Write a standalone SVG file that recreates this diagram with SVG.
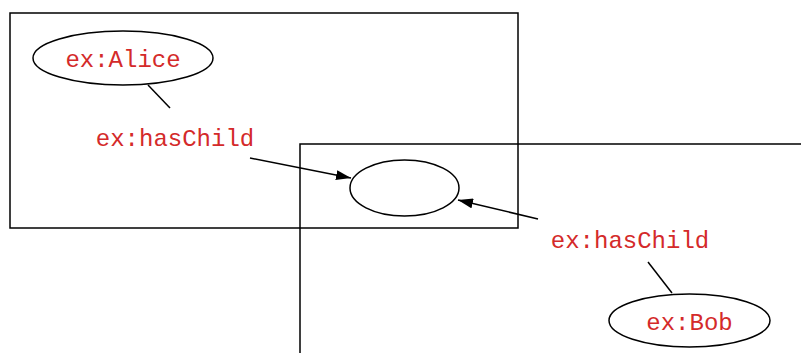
<svg xmlns="http://www.w3.org/2000/svg" width="801" height="353" viewBox="0 0 801 353">
<style>
.box{fill:none;stroke:#000;stroke-width:1.5}
.node{fill:none;stroke:#000;stroke-width:1.5}
.lbl{font-family:"Liberation Mono",monospace;font-size:24px;fill:#d42a2a;text-anchor:middle}
.edge{stroke:#000;stroke-width:1.5;fill:none}
</style>
<defs>
<marker id="arr" viewBox="0 0 15 10" refX="15" refY="5" markerWidth="15" markerHeight="10" markerUnits="userSpaceOnUse" orient="auto">
<path d="M0,0 L15,5 L0,10 z" fill="#000"/>
</marker>
</defs>
<rect class="box" x="10" y="13" width="508" height="215"/>
<rect class="box" x="300" y="144" width="510" height="220"/>
<g id="connectors">
<line class="edge" x1="148" y1="85" x2="170" y2="108"/>
<line class="edge" x1="250" y1="158" x2="351" y2="178" marker-end="url(#arr)"/>
<line class="edge" x1="538" y1="219" x2="458" y2="200" marker-end="url(#arr)"/>
<line class="edge" x1="648" y1="262" x2="672" y2="293"/>
</g>
<g id="alice">
<ellipse class="node" cx="123" cy="58" rx="90" ry="27"/>
<text class="lbl" x="123" y="67">ex:Alice</text>
</g>
<g id="label1">
<text class="lbl" x="175" y="146">ex:hasChild</text>
</g>
<g id="blank">
<ellipse class="node" cx="404.5" cy="188" rx="54.5" ry="28"/>
</g>
<g id="label2">
<text class="lbl" x="630" y="248">ex:hasChild</text>
</g>
<g id="bob">
<ellipse class="node" cx="689.5" cy="320.5" rx="80.5" ry="26.5"/>
<text class="lbl" x="689.5" y="330">ex:Bob</text>
</g>
</svg>
